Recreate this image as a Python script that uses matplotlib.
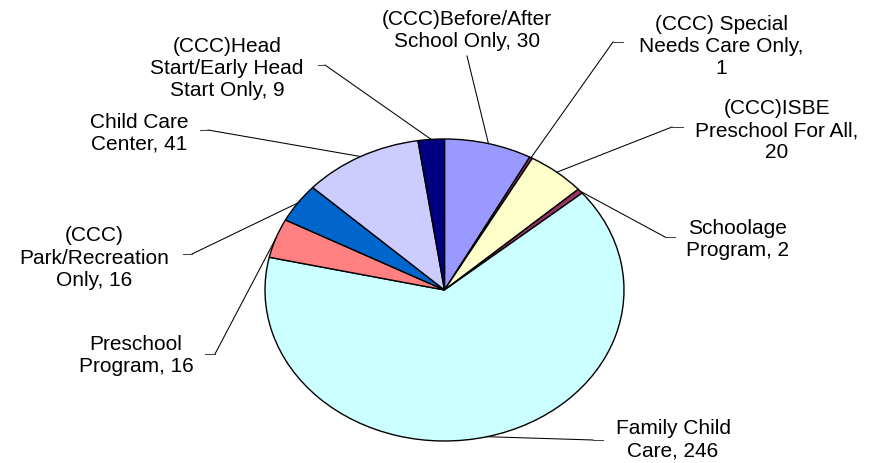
import matplotlib.pyplot as plt
import numpy as np

# datos del grafico
categorias = ['(CCC)Before/After\nSchool Only', '(CCC) Special\nNeeds Care Only,\n',
              '(CCC)ISBE\nPreschool For All,\n', 'Schoolage\nProgram',
              'Family Child\nCare', 'Preschool\nProgram', '(CCC)\nPark/Recreation\nOnly',
              'Child Care\nCenter', '(CCC)Head\nStart/Early Head\nStart Only']
valores = [30, 1, 20, 2, 246, 16, 16, 41, 9]
colores = ['#9999FF', '#993366', '#FFFFCC', '#993366', '#CCFFFF',
           '#FF8080', '#0066CC', '#CCCCFF', '#000080']

# layout en pixeles (centro del texto, codo de la linea, fin del tramo horizontal)
pos_texto = [(467, 30), (721, 46), (777, 131), (737, 239), (673, 440),
             (136, 356), (94, 258), (139, 133), (227, 68)]
codos = [(467, 57), (613, 43), (672, 128), (665, 238), (593, 441),
         (215, 355), (192, 255), (208, 131), (325, 66)]
colas = [None, 623, 683, 675, 603, 205, 183, 200, 318]

W, H = 871, 464
cx, cy, rx, ry = 444.5, 291, 179.5, 151


def px(x, y):
    return (x - cx) / rx, (cy - y) / ry


fig = plt.figure(figsize=(W / 100, H / 100), dpi=100)
ax = fig.add_axes([0, 0, 1, 1])
wedges, _ = ax.pie(valores, colors=colores, startangle=90, counterclock=False,
                   wedgeprops=dict(edgecolor='black', linewidth=1.0))
ax.set_aspect('auto')
ax.set_xlim(px(0, 0)[0], px(W, 0)[0])
ax.set_ylim(px(0, H)[1], px(0, 0)[1])
ax.axis('off')

for i, w in enumerate(wedges):
    ang = np.deg2rad((w.theta1 + w.theta2) / 2)
    borde = (np.cos(ang), np.sin(ang))
    kx, ky = px(*codos[i])
    ax.plot([borde[0], kx], [borde[1], ky], color='black', lw=0.75)
    if colas[i] is not None:
        tx, ty = px(colas[i], codos[i][1])
        ax.plot([kx, tx], [ky, ty], color='#444444', lw=0.75)
    nombre = categorias[i]
    if nombre.endswith('\n'):
        texto = nombre + str(valores[i])
    else:
        texto = nombre + ', ' + str(valores[i])
    x, y = px(*pos_texto[i])
    ax.text(x, y, texto, ha='center', va='center', fontsize=15,
            family='Liberation Sans', linespacing=1.2)

fig.savefig('out.png', dpi=100)
plt.close()
